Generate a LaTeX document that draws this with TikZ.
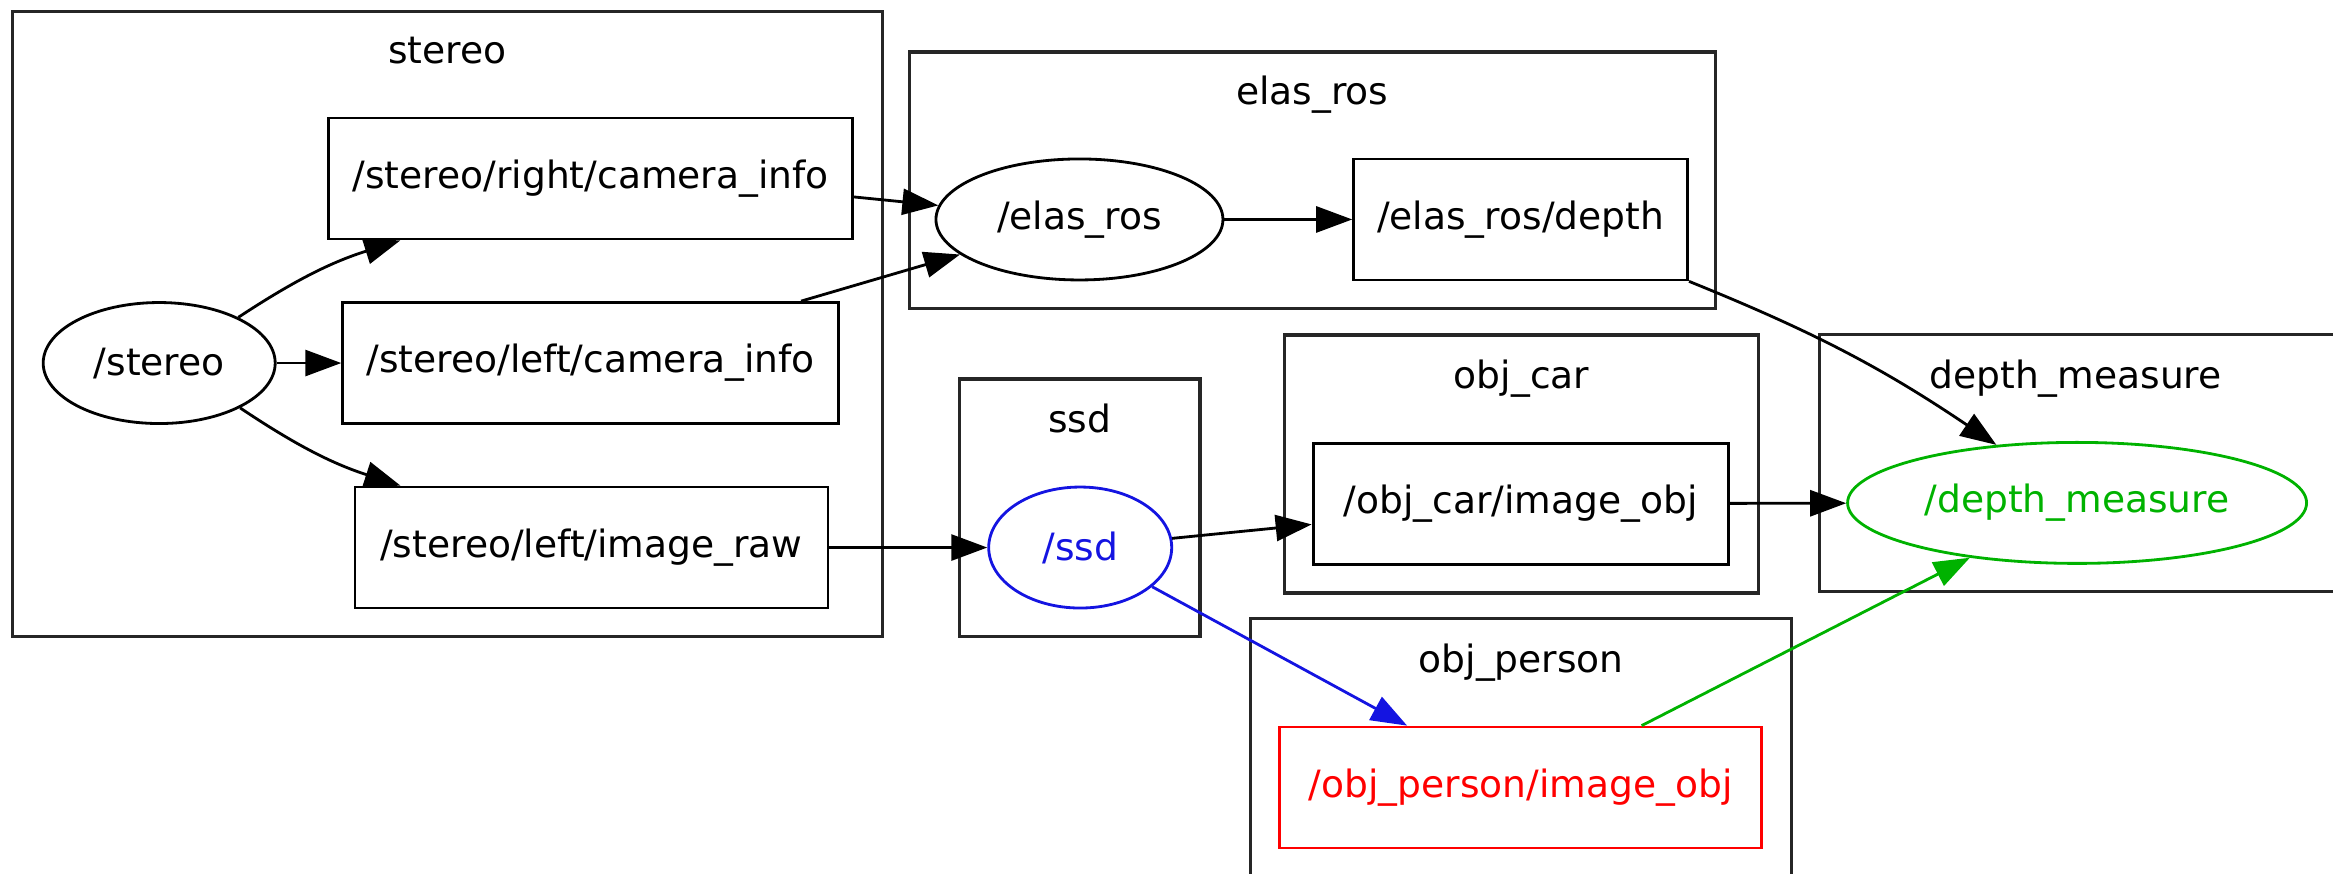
\documentclass[tikz,border=0pt]{standalone}
\usepackage{fontspec}
\setmainfont{DejaVu Sans}
\usetikzlibrary{arrows.meta,shapes.geometric}
\definecolor{ssdblue}{RGB}{20,20,225}
\definecolor{measgreen}{RGB}{0,178,0}
\definecolor{personred}{RGB}{255,0,0}
\tikzset{
  topic/.style={draw,rectangle,line width=0.8pt,inner sep=0pt,minimum height=12.1mm},
  rosnode/.style={draw,ellipse,line width=0.8pt,inner sep=0pt,minimum height=12.1mm},
  cluster/.style={draw,line width=0.9pt,black!85},
  clabel/.style={inner sep=0pt,anchor=base},
  edge/.style={-{Triangle[length=3.6mm,width=2.6mm]},line width=0.8pt},
}
\begin{document}
\begin{tikzpicture}[x=0.14879mm,y=-0.14879mm,font=\fontsize{10.7}{12.8}\selectfont]
  \path[use as bounding box] (0,0) rectangle (1568,587);
  \clip (0,0) rectangle (1568,587);
  % clusters
  \draw[cluster] (8.5,7.8) rectangle (593,428);
  \node[clabel] (lstereo) at (300.7,43) {stereo};
  \draw[cluster] (611,35) rectangle (1153,207.3);
  \node[clabel] (lelas) at (882,70) {elas\_ros};
  \draw[cluster] (645,254.7) rectangle (806.5,427.8);
  \node[clabel] (lssd) at (725.7,291) {ssd};
  \draw[cluster] (863.4,225.2) rectangle (1181.9,398.6);
  \node[clabel] (lcar) at (1022.6,261) {obj\_car};
  \draw[cluster] (840.6,415.7) rectangle (1204.2,600);
  \node[clabel] (lperson) at (1022.4,452) {obj\_person};
  \draw[cluster] (1222.6,225) rectangle (1580,397.7);
  \node[clabel] (lmeasure) at (1395,261) {depth\_measure};
  % nodes and topics
  \node[rosnode,minimum width=23.2mm] (stereo) at (107,244) {/stereo};
  \node[topic,minimum width=52.4mm] (rcam) at (397,120) {/stereo/right/camera\_info};
  \node[topic,minimum width=49.6mm] (lcam) at (397,244) {/stereo/left/camera\_info};
  \node[topic,minimum width=47.3mm] (imgraw) at (397.5,368) {/stereo/left/image\_raw};
  \node[rosnode,minimum width=28.7mm] (elas) at (725.5,147.5) {/elas\_ros};
  \node[topic,minimum width=33.4mm] (edepth) at (1022,147.5) {/elas\_ros/depth};
  \node[rosnode,minimum width=18.3mm,ssdblue,text=ssdblue] (ssd) at (726,368) {/ssd};
  \node[topic,minimum width=41.5mm] (carimg) at (1022,338.5) {/obj\_car/image\_obj};
  \node[topic,minimum width=48.2mm,personred,text=personred] (personimg) at (1022,529.3) {/obj\_person/image\_obj};
  \node[rosnode,minimum width=45.9mm,measgreen,text=measgreen] (measure) at (1396,338) {/depth\_measure};
  % edges
  \draw[edge] (stereo.30) to[bend left=8] ([xshift=7.3mm]rcam.south west);
  \draw[edge] (stereo) -- (lcam);
  \draw[edge] (stereo.-29) to[bend right=8] ([xshift=4.7mm]imgraw.north west);
  \draw[edge] (rcam.-4.5) -- (elas);
  \draw[edge] ([xshift=-3.9mm]lcam.north east) -- (elas);
  \draw[edge] (elas) -- (edepth);
  \draw[edge] (edepth.south east) to[bend left=6] (measure);
  \draw[edge] (imgraw) -- (ssd);
  \draw[edge] (ssd) -- (carimg);
  \draw[edge,ssdblue] (ssd) -- (personimg);
  \draw[edge] (carimg) -- (measure);
  \draw[edge,measgreen] (personimg) -- (measure);
\end{tikzpicture}
\end{document}
